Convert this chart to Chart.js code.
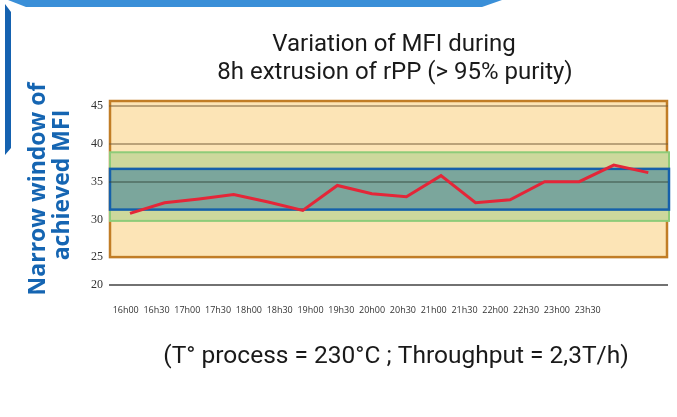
<!DOCTYPE html>
<html>
<head>
<meta charset="utf-8">
<script src="https://cdn.jsdelivr.net/npm/chart.js@4.4.1/dist/chart.umd.min.js"></script>
<style>
  html, body { margin: 0; padding: 0; background: #fff; }
  #wrap { width: 677px; height: 417px; position: relative; }
</style>
</head>
<body>
<div id="wrap"><canvas id="mfiChart"></canvas></div>
<script>
// data
var times = ['16h00', '16h30', '17h00', '17h30', '18h00', '18h30', '19h00', '19h30',
             '20h00', '20h30', '21h00', '21h30', '22h00', '22h30', '23h00', '23h30'];
var mfi = [30.8, 32.2, 32.7, 33.3, 32.3, 31.2, 34.5, 33.4,
           33.0, 35.8, 32.2, 32.6, 35.0, 35.0, 37.2, 36.2];

// y axis is broken under 25 : the "20" tick sits closer than the others
var yTickValues = [21.3, 25, 30, 35, 40, 45];
var yTickLabels = ['20', '25', '30', '35', '40', '45'];

// bands drawn behind the curve (MFI values)
var rangeBand = [25, 45.7];      // orange frame
var targetBand = [29.8, 38.9];   // green
var achievedBand = [31.3, 36.7]; // blue

var points = mfi.map(function (v, i) { return { x: i, y: v }; });

// boxes + decorations, painted before the grid
var backdrop = {
  id: 'backdrop',
  beforeDraw: function (chart) {
    var ctx = chart.ctx;
    var ys = chart.scales.y;
    var a = chart.chartArea;
    ctx.save();

    // top blue stripe and side bar
    ctx.fillStyle = '#3a8fd8';
    ctx.beginPath();
    ctx.moveTo(8, 0); ctx.lineTo(502, 0); ctx.lineTo(482, 7); ctx.lineTo(26, 7);
    ctx.closePath(); ctx.fill();
    ctx.fillStyle = '#1562b0';
    ctx.beginPath();
    ctx.moveTo(5, 4); ctx.lineTo(11, 12); ctx.lineTo(11, 148); ctx.lineTo(5, 155);
    ctx.closePath(); ctx.fill();

    function box(band, fill, stroke, lw, x0, x1) {
      var top = ys.getPixelForValue(band[1]);
      var bot = ys.getPixelForValue(band[0]);
      ctx.fillStyle = fill;
      ctx.fillRect(x0, top, x1 - x0, bot - top);
      ctx.strokeStyle = stroke;
      ctx.lineWidth = lw;
      ctx.strokeRect(x0, top, x1 - x0, bot - top);
    }
    box(rangeBand, '#fce4b6', '#c17d26', 2.5, a.left + 1, a.right - 1);
    box(targetBand, '#cdd89c', '#8ecb79', 2, a.left + 1, a.right + 1);
    box(achievedBand, '#7ba69c', '#1560aa', 2.5, a.left + 1, a.right + 1);
    ctx.restore();
  },
  afterDraw: function (chart) {
    var ctx = chart.ctx;
    ctx.save();
    ctx.textAlign = 'center';
    ctx.textBaseline = 'middle';
    ctx.fillStyle = '#1a1a1a';
    ctx.font = '24px Roboto';
    ctx.fillText('Variation of MFI during', 394, 45);
    ctx.fillText('8h extrusion of rPP (> 95% purity)', 395, 73);
    ctx.font = '24.5px Roboto';
    ctx.fillText('(T° process = 230°C ; Throughput = 2,3T/h)', 396, 357);

    ctx.fillStyle = '#1565b2';
    ctx.font = 'bold 23px "Open Sans"';
    ctx.translate(38, 189);
    ctx.rotate(-Math.PI / 2);
    ctx.fillText('Narrow window of', 0, 0);
    ctx.fillText('achieved MFI', 4, 24);
    ctx.restore();
  }
};

var ctx = document.getElementById('mfiChart');
var mfiChart = new Chart(ctx, {
  type: 'line',
  data: {
    datasets: [{
      data: points,
      xAxisID: 'x',
      yAxisID: 'y',
      borderColor: '#e42638',
      borderWidth: 3,
      pointRadius: 0,
      tension: 0,
      fill: false
    }]
  },
  plugins: [backdrop],
  options: {
    responsive: true,
    maintainAspectRatio: false,
    animation: false,
    layout: { padding: { top: 101, right: 9, left: 0, bottom: 0 } },
    plugins: {
      legend: { display: false },
      tooltip: { enabled: false },
      title: { display: false }
    },
    scales: {
      x: {
        type: 'linear',
        display: false,
        min: -0.608,
        max: 15.57
      },
      xLabels: {
        type: 'linear',
        position: 'bottom',
        min: -0.542,
        max: 17.607,
        afterBuildTicks: function (scale) {
          scale.ticks = times.map(function (t, i) { return { value: i }; });
        },
        afterFit: function (scale) { scale.height = 132; },
        grid: { display: false, drawTicks: false },
        border: { display: false },
        ticks: {
          autoSkip: false,
          maxRotation: 0,
          padding: 20,
          color: '#333',
          font: { family: 'Open Sans', size: 9 },
          callback: function (v, i) { return times[i]; }
        }
      },
      y: {
        type: 'linear',
        min: 21.3,
        max: 45.7,
        afterBuildTicks: function (scale) {
          scale.ticks = yTickValues.map(function (v) { return { value: v }; });
        },
        afterFit: function (scale) { scale.width = 109; },
        border: { display: false },
        grid: {
          drawTicks: false,
          color: function (c) {
            var v = c.tick ? c.tick.value : null;
            if (v === 21.3) return '#727272';
            if (v === 35) return 'rgba(50,70,60,0.45)';
            if (v === 40 || v === 45) return 'rgba(120,95,60,0.5)';
            return 'rgba(0,0,0,0)';
          },
          lineWidth: 2
        },
        ticks: {
          padding: 6,
          color: '#333',
          font: { family: 'Liberation Sans Narrow', size: 12 },
          callback: function (v, i) { return yTickLabels[i]; }
        }
      }
    }
  }
});
</script>
</body>
</html>
